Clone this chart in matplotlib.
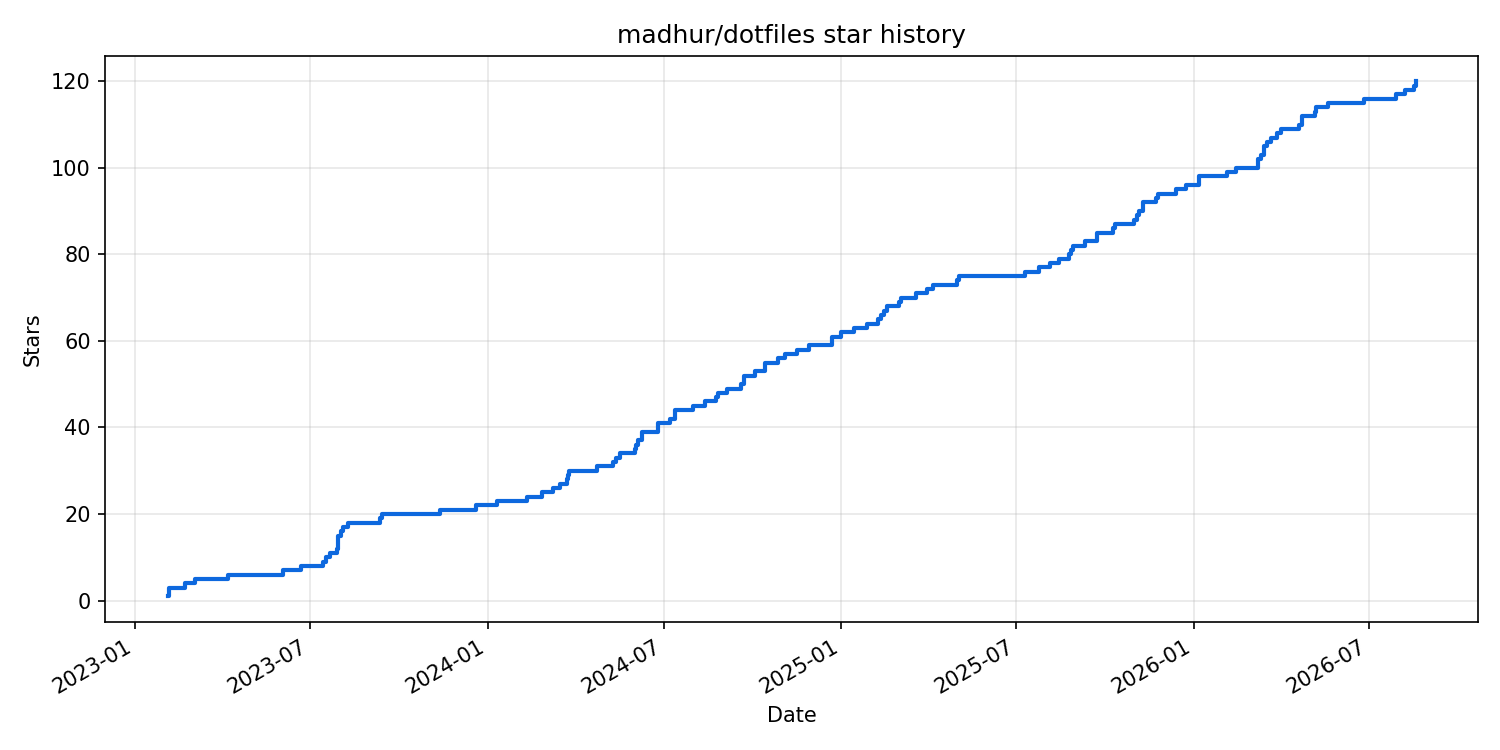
#Star history step chart for madhur/dotfiles

import pandas as pd
import matplotlib
matplotlib.use("Agg")
import matplotlib.pyplot as plt

# dates a new star count was reached
star_dates = [
	"2023-02-04", "2023-02-05", "2023-02-22", "2023-03-04", "2023-04-07",
	"2023-06-03", "2023-06-22", "2023-07-15", "2023-07-18", "2023-07-22",
	"2023-07-29", "2023-07-30", "2023-08-02", "2023-08-04", "2023-08-09",
	"2023-09-12", "2023-09-14", "2023-11-13", "2023-12-20",
	"2024-01-11", "2024-02-11", "2024-02-26", "2024-03-09", "2024-03-16",
	"2024-03-23", "2024-03-24", "2024-03-25", "2024-04-23", "2024-05-10",
	"2024-05-13", "2024-05-17", "2024-06-01", "2024-06-02", "2024-06-04",
	"2024-06-09", "2024-06-25", "2024-07-08", "2024-07-13", "2024-07-31",
	"2024-08-13", "2024-08-24", "2024-08-26", "2024-09-05", "2024-09-19",
	"2024-09-22", "2024-10-04", "2024-10-14", "2024-10-27", "2024-11-04",
	"2024-11-16", "2024-11-28", "2024-12-22",
	"2025-01-01", "2025-01-14", "2025-01-27", "2025-02-08", "2025-02-11",
	"2025-02-14", "2025-02-17", "2025-03-02", "2025-03-04", "2025-03-19",
	"2025-03-31", "2025-04-06", "2025-05-01", "2025-05-03", "2025-07-10",
	"2025-07-24", "2025-08-05", "2025-08-14", "2025-08-24", "2025-08-27",
	"2025-08-29", "2025-09-10", "2025-09-22", "2025-10-09", "2025-10-11",
	"2025-10-31", "2025-11-03", "2025-11-05", "2025-11-09", "2025-11-22",
	"2025-11-25", "2025-12-13", "2025-12-23",
	"2026-01-06", "2026-02-04", "2026-02-13", "2026-03-08", "2026-03-11",
	"2026-03-14", "2026-03-17", "2026-03-21", "2026-03-28", "2026-04-01",
	"2026-04-19", "2026-04-23", "2026-05-06", "2026-05-07", "2026-05-19",
	"2026-06-26", "2026-07-29", "2026-08-07", "2026-08-16", "2026-08-18",
]

star_counts = [
	1, 3, 4, 5, 6,
	7, 8, 9, 10, 11,
	12, 15, 16, 17, 18,
	19, 20, 21, 22,
	23, 24, 25, 26, 27,
	28, 29, 30, 31, 32,
	33, 34, 35, 36, 37,
	39, 41, 42, 44, 45,
	46, 47, 48, 49, 50,
	52, 53, 55, 56, 57,
	58, 59, 61,
	62, 63, 64, 65, 66,
	67, 68, 69, 70, 71,
	72, 73, 74, 75, 76,
	77, 78, 79, 80, 81,
	82, 83, 85, 86, 87,
	88, 89, 90, 92, 93,
	94, 95, 96,
	98, 99, 100, 102, 103,
	105, 106, 107, 108, 109,
	110, 112, 113, 114, 115,
	116, 117, 118, 119, 120,
]

df = pd.DataFrame({"date": pd.to_datetime(star_dates), "stars": star_counts})

fig, ax = plt.subplots(figsize=(10, 5), dpi=150)
ax.step(df["date"], df["stars"], where="post", color="#0d68de", linewidth=2)

ax.set_title("madhur/dotfiles star history")
ax.set_xlabel("Date")
ax.set_ylabel("Stars")
ax.grid(True, alpha=0.3)

fig.autofmt_xdate()
# match the reference's plot area
fig.subplots_adjust(left=0.0703, right=0.9853, top=0.926, bottom=0.1707)
fig.savefig("out.png")
